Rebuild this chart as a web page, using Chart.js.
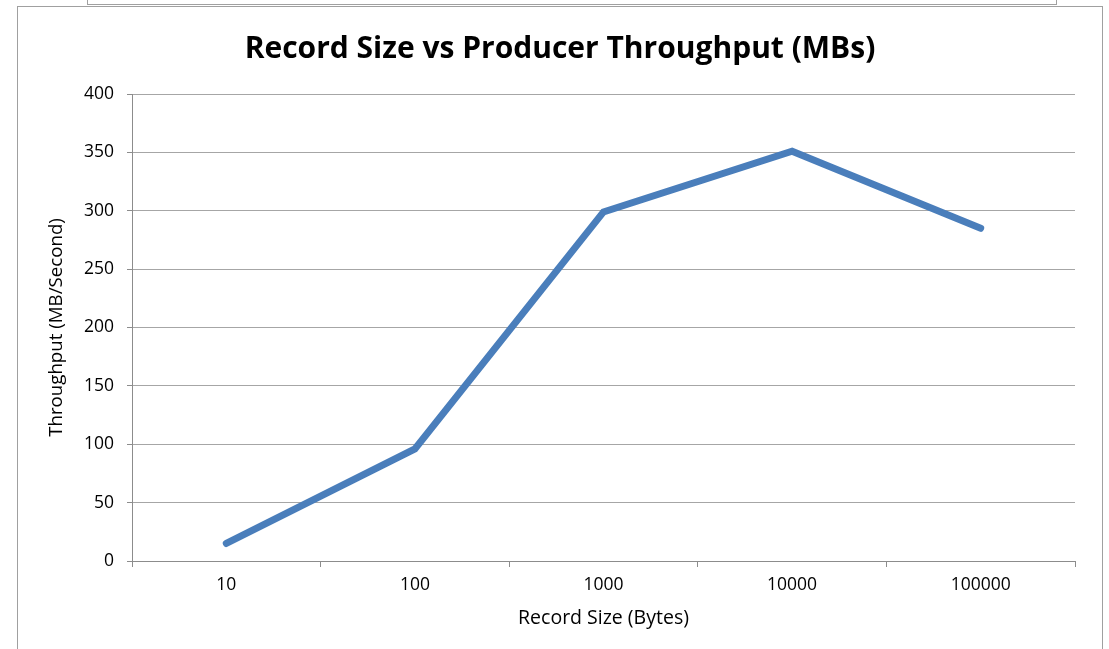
<!DOCTYPE html>
<html>
<head>
<meta charset="utf-8">
<script src="https://cdn.jsdelivr.net/npm/chart.js@4.4.1/dist/chart.umd.min.js"></script>
<style>
  html, body { margin: 0; padding: 0; background: #fff; }
  #wrap { position: relative; width: 1109px; height: 649px; overflow: hidden; }
  #topbox { position: absolute; left: 87px; top: -4px; width: 968px; height: 8px; border: 1px solid #a0a0a0; border-top: none; }
  #frame { position: absolute; left: 17px; top: 6px; width: 1084px; height: 660px; border: 1px solid #a0a0a0; }
  canvas { position: absolute; left: 0; top: 0; }
</style>
</head>
<body>
<div id="wrap">
  <div id="topbox"></div>
  <div id="frame"></div>
  <canvas id="c" width="1109" height="649"></canvas>
</div>
<script>
const categories = ["10", "100", "1000", "10000", "100000"];
const throughput = [15, 96, 299, 351, 285];
const yTicks = [0, 50, 100, 150, 200, 250, 300, 350, 400];

const FONT = "'Open Sans', Lato, sans-serif";

new Chart(document.getElementById('c'), {
  type: 'line',
  data: {
    labels: categories,
    datasets: [{
      label: 'Throughput',
      data: throughput,
      borderColor: '#4a7ebb',
      borderWidth: 7,
      pointRadius: 0,
      tension: 0,
      fill: false,
      borderCapStyle: 'round',
      borderJoinStyle: 'miter'
    }]
  },
  options: {
    responsive: false,
    animation: false,
    layout: { padding: { left: 45, right: 34, top: 0, bottom: 0 } },
    plugins: {
      legend: { display: false },
      tooltip: { enabled: false },
      title: {
        display: true,
        text: 'Record Size vs Producer Throughput (MBs)',
        color: '#000',
        font: { family: FONT, size: 30, weight: 'bold', lineHeight: 1.2 },
        padding: { top: 31, bottom: 27 }
      }
    },
    scales: {
      x: {
        type: 'category',
        offset: true,
        grid: { display: true, drawOnChartArea: false, drawTicks: true, tickLength: 6, tickColor: '#8c8c8c', offset: true },
        border: { display: true, color: '#8c8c8c', width: 1 },
        ticks: { color: '#000', font: { family: FONT, size: 17.5 }, padding: 8, maxRotation: 0 },
        title: { display: true, text: 'Record Size (Bytes)', color: '#000', font: { family: FONT, size: 19.5, lineHeight: 1.2 }, padding: { top: 4, bottom: 19 } },
        afterFit: (s) => { s.height = 88; }
      },
      y: {
        min: 0, max: 400,
        afterBuildTicks: (s) => { s.ticks = yTicks.map(v => ({ value: v })); },
        grid: { color: '#a6a6a6', lineWidth: 1, drawTicks: true, tickLength: 5, tickColor: '#8c8c8c' },
        border: { display: true, color: '#8c8c8c', width: 1 },
        ticks: { color: '#000', font: { family: FONT, size: 17.5 }, padding: 13 },
        title: { display: true, text: 'Throughput (MB/Second)', color: '#000', font: { family: FONT, size: 18.7, lineHeight: 1.2 }, padding: { top: 0, bottom: 4 } },
        afterFit: (s) => { s.width = 87; }
      }
    }
  }
});
</script>
</body>
</html>
